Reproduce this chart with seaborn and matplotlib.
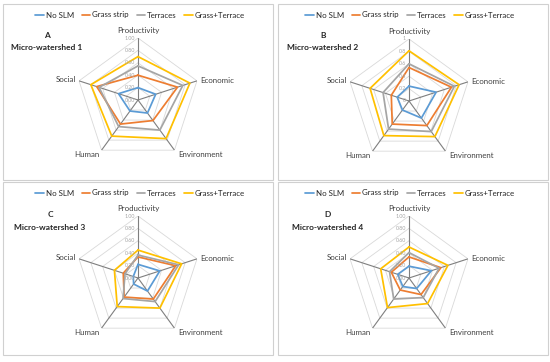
import numpy as np
import pandas as pd
import matplotlib
matplotlib.use("Agg")
import matplotlib.pyplot as plt
from matplotlib.patches import Rectangle
import seaborn as sns

# categories and series
categories = ["Productivity", "Economic", "Environment", "Human", "Social"]
series = ["No SLM", "Grass strip", "Terraces", "Grass+Terrace"]
colors = ["#5b9bd5", "#ed7d31", "#a5a5a5", "#ffc000"]

# Micro-watershed 1
ws1_no_slm = [0.20, 0.30, 0.26, 0.22, 0.33]
ws1_grass = [0.40, 0.67, 0.41, 0.48, 0.70]
ws1_terraces = [0.55, 0.76, 0.60, 0.53, 0.66]
ws1_grass_terrace = [0.70, 0.88, 0.77, 0.72, 0.80]

# Micro-watershed 2
ws2_no_slm = [0.24, 0.46, 0.34, 0.18, 0.20]
ws2_grass = [0.54, 0.72, 0.49, 0.46, 0.30]
ws2_terraces = [0.60, 0.77, 0.61, 0.56, 0.44]
ws2_grass_terrace = [0.81, 0.85, 0.71, 0.69, 0.66]

# Micro-watershed 3
ws3_no_slm = [0.22, 0.37, 0.26, 0.12, 0.08]
ws3_grass = [0.34, 0.64, 0.42, 0.38, 0.25]
ws3_terraces = [0.37, 0.69, 0.47, 0.41, 0.22]
ws3_grass_terrace = [0.45, 0.74, 0.60, 0.57, 0.40]

# Micro-watershed 4
ws4_no_slm = [0.19, 0.38, 0.21, 0.17, 0.19]
ws4_grass = [0.34, 0.54, 0.33, 0.24, 0.30]
ws4_terraces = [0.41, 0.51, 0.39, 0.42, 0.33]
ws4_grass_terrace = [0.50, 0.66, 0.51, 0.59, 0.48]

panel_letters = ["A", "B", "C", "D"]
panel_titles = ["Micro-watershed 1", "Micro-watershed 2", "Micro-watershed 3", "Micro-watershed 4"]
tick_values = [0.0, 0.2, 0.4, 0.6, 0.8, 1.0]
ticks_two_dp = ["0.00", "0.20", "0.40", "0.60", "0.80", "1.00"]
ticks_short = ["0", "0.2", "0.4", "0.6", "0.8", "1"]

panel_data = [
    [ws1_no_slm, ws1_grass, ws1_terraces, ws1_grass_terrace],
    [ws2_no_slm, ws2_grass, ws2_terraces, ws2_grass_terrace],
    [ws3_no_slm, ws3_grass, ws3_terraces, ws3_grass_terrace],
    [ws4_no_slm, ws4_grass, ws4_terraces, ws4_grass_terrace],
]
panel_ticks = [ticks_two_dp, ticks_short, ticks_two_dp, ticks_two_dp]

sns.set_style("white")
plt.rcParams["font.family"] = ["Lato", "DejaVu Sans"]

W, H = 550, 362
fig = plt.figure(figsize=(W / 100, H / 100), dpi=100)

def fx(px):
    return px / W

def fy(py):
    return 1 - py / H

angles = np.deg2rad(np.arange(5) * 72.0)
closed_angles = np.append(angles, 2 * np.pi)

# panel layout in pixels: box, radar centre, legend centre, title anchor
boxes = [(3, 4, 270, 176), (278, 4, 270, 176), (3, 182, 270, 173), (278, 182, 270, 173)]
centres = [(138, 100), (409, 101), (138, 278), (409, 278)]
legend_pos = [(140, 15), (410, 15), (140, 193), (410, 193)]
title_pos = [(47, 35), (323, 35), (50, 214), (328, 214)]
R = 62

label_style = [
    ("center", "bottom", (0, 4)),
    ("left", "center", (3, 0)),
    ("left", "center", (4, -4)),
    ("right", "center", (-2, -4)),
    ("right", "center", (-3, 1)),
]

for i in range(4):
    bx, by, bw, bh = boxes[i]
    fig.patches.append(Rectangle((fx(bx), fy(by + bh)), bw / W, bh / H,
                                 transform=fig.transFigure, fill=False,
                                 edgecolor="#d0d0d0", lw=0.8))

    cx, cy = centres[i]
    ax = fig.add_axes([fx(cx - R), fy(cy + R), 2 * R / W, 2 * R / H], projection="polar")
    ax.set_theta_zero_location("N")
    ax.set_theta_direction(-1)
    ax.set_ylim(0, 1)
    ax.grid(False)
    ax.spines["polar"].set_visible(False)
    ax.patch.set_alpha(0)

    # polygon gridlines
    for r in tick_values[1:]:
        ax.plot(closed_angles, [r] * 6, color="#d9d9d9", lw=0.6, zorder=1)
    # spokes
    for a in angles:
        ax.plot([a, a], [0, 1], color="#7f7f7f", lw=0.8, zorder=2)

    rows = []
    for name, vals in zip(series, panel_data[i]):
        for a, v in zip(closed_angles, vals + vals[:1]):
            rows.append({"theta": a, "value": v, "series": name})
    df = pd.DataFrame(rows)

    sns.lineplot(data=df, x="theta", y="value", hue="series", hue_order=series,
                 palette=dict(zip(series, colors)), sort=False, estimator=None,
                 lw=1.25, ax=ax, zorder=3)
    ax.set_xlabel("")
    ax.set_ylabel("")
    ax.set_xticks([])
    ax.set_yticks([])
    ax.set_ylim(0, 1)
    ax.grid(False)

    for lab, a, (ha, va, off) in zip(categories, angles, label_style):
        ax.annotate(lab, xy=(a, 1.0), xytext=off, textcoords="offset pixels",
                    ha=ha, va=va, fontsize=5.7, color="#404040")
    for r, t in zip(tick_values, panel_ticks[i]):
        ax.annotate(t, xy=(0, r), xytext=(-3, 0), textcoords="offset pixels",
                    ha="right", va="center", fontsize=3.8, color="#a6a6a6")

    lx, ly = legend_pos[i]
    sns.move_legend(ax, "center", bbox_to_anchor=(fx(lx), fy(ly)),
                    bbox_transform=fig.transFigure, ncol=4, frameon=False,
                    title=None, fontsize=5.7, handlelength=1.1,
                    handletextpad=0.2, columnspacing=1.0)

    tx, ty = title_pos[i]
    fig.text(fx(tx), fy(ty), panel_letters[i], ha="center", va="center",
             fontsize=6, fontweight="bold", color="#262626")
    fig.text(fx(tx), fy(ty + 13), panel_titles[i], ha="center", va="center",
             fontsize=6, fontweight="bold", color="#262626")

fig.savefig("out.png", dpi=100, facecolor="white")
